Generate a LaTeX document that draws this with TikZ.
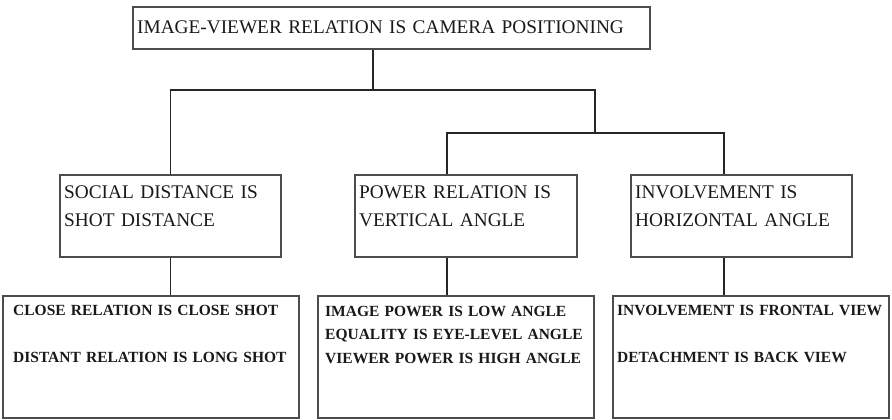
\documentclass[tikz,border=0pt]{standalone}
\usepackage{fontspec}
\setmainfont{Liberation Serif}
\tikzset{bx/.append style={draw=black!70, line width=1.1pt, inner sep=0pt}}
\tikzset{tx/.append style={anchor=base west, inner sep=0pt, text width=300pt, align=left, text=black!90}}
\tikzset{hd/.append style={font=\fontsize{19.3}{28}\selectfont}}
\tikzset{sm/.append style={font=\fontsize{15.5}{23.5}\selectfont\bfseries}}
\tikzset{ln/.append style={line width=1.6pt, draw=black!85}}

\begin{document}
\begin{tikzpicture}[x=1pt,y=-1pt]
                \useasboundingbox (0,0) rectangle (892,420);
                % boxes
                \node[bx, minimum width=517pt, minimum height=42pt] (a) at (391.5,28) {};
                \node[bx, minimum width=221pt, minimum height=82pt] (b) at (170.5,216) {};
                \node[bx, minimum width=222pt, minimum height=82pt] (c) at (466,216) {};
                \node[bx, minimum width=221pt, minimum height=82pt] (d) at (741.5,216) {};
                \node[bx, minimum width=296pt, minimum height=122pt] (e) at (151,357) {};
                \node[bx, minimum width=276pt, minimum height=122pt] (f) at (456,357) {};
                \node[bx, minimum width=276pt, minimum height=122pt] (g) at (751,357) {};
                % texts
                \node[tx,hd,text width=520pt] (at) at (137,34) {IMAGE-VIEWER RELATION IS CAMERA POSITIONING};
                \node[tx,hd] (bt) at (64,198.5) {SOCIAL DISTANCE IS\\SHOT DISTANCE};
                \node[tx,hd] (ct) at (359,198.5) {POWER RELATION IS\\VERTICAL ANGLE};
                \node[tx,hd] (dt) at (635,198.5) {INVOLVEMENT IS\\HORIZONTAL ANGLE};
                \node[tx,sm] (et) at (13,315) {CLOSE RELATION IS CLOSE SHOT\\[23.5pt]DISTANT RELATION IS LONG SHOT};
                \node[tx,sm] (ft) at (325,316) {IMAGE POWER IS LOW ANGLE\\EQUALITY IS EYE-LEVEL ANGLE\\VIEWER POWER IS HIGH ANGLE};
                \node[tx,sm] (gt) at (617,315) {INVOLVEMENT IS FRONTAL VIEW\\[23.5pt]DETACHMENT IS BACK VIEW};
                % tree lines
                \coordinate (j1) at (373,90);
                \coordinate (j2) at (595,133);
                \coordinate (j3) at (447,133);
                \coordinate (j4) at (724,133);
                \draw[ln] (a.south -| j1) -- (j1);
                \draw[ln] (b.north) |- (j1) -| (j2);
                \draw[ln] (j3 |- c.north) -- (j3) -- (j4) -- (j4 |- d.north);
                \draw[ln] (b.south) -- (b.south |- e.north);
                \draw[ln] (j3 |- c.south) -- (j3 |- f.north);
                \draw[ln] (j4 |- d.south) -- (j4 |- g.north);
            \end{tikzpicture}
\end{document}
